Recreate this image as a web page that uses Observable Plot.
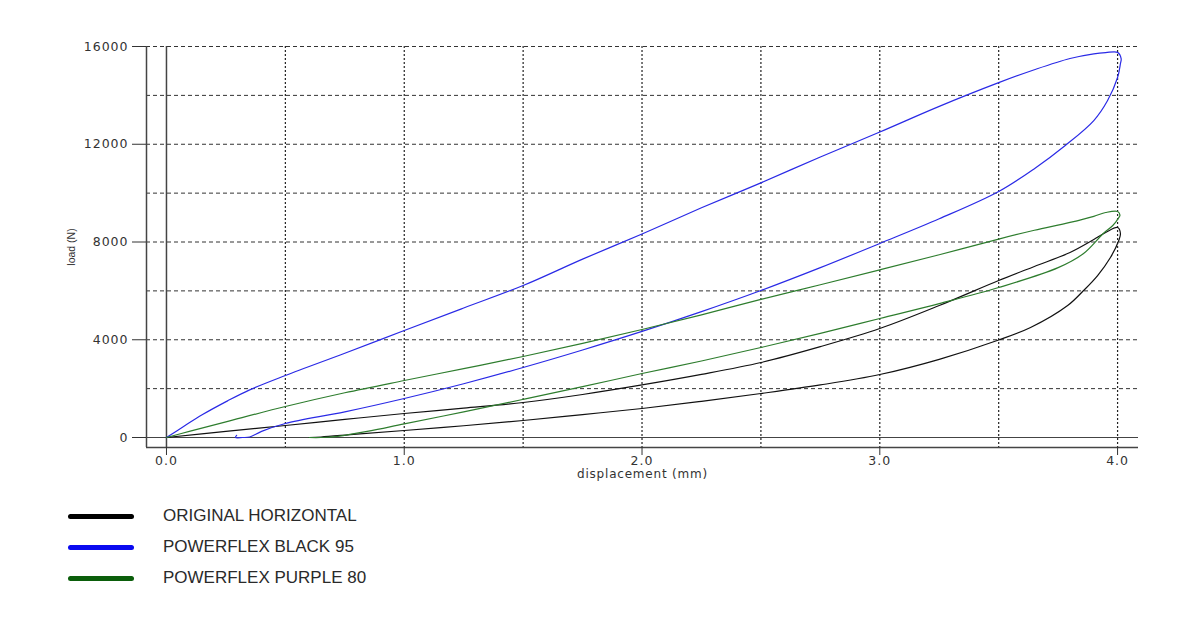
<!DOCTYPE html>
<html>
<head>
<meta charset="utf-8">
<script src="https://cdn.jsdelivr.net/npm/d3@7"></script>
<script src="https://cdn.jsdelivr.net/npm/@observablehq/plot@0.6"></script>
<style>
  body { margin: 0; background: #fff; }
  #wrap { position: relative; width: 1200px; height: 636px; background: #fff; }
  .legend { position: absolute; left: 0; top: 0; width: 1200px; height: 636px; pointer-events: none; }
  .item { position: absolute; left: 68px; height: 20px; }
  .sw { position: absolute; left: 0; width: 66px; height: 5px; border-radius: 3px; }
  .lab { position: absolute; left: 95px; white-space: nowrap; font-family: "Liberation Sans", Arial, sans-serif; font-size: 17px; color: #2a2a2a; line-height: 20px; }
</style>
</head>
<body>
<div id="wrap">
  <div id="chart"></div>
  <div class="legend" id="legend"></div>
</div>
<script>
// ---- data ----
const seriesNames = ["ORIGINAL HORIZONTAL", "POWERFLEX BLACK 95", "POWERFLEX PURPLE 80"];
const seriesColors = ["#111111", "#2a2ae6", "#2e7d2e"];
const legendColors = ["#000000", "#0a0af0", "#0b5e0b"];

const origX = [0, 0.25, 0.5, 0.75, 1.0, 1.25, 1.5, 1.75, 2.0, 2.25, 2.5, 2.75, 3.0, 3.25, 3.5, 3.65, 3.8, 3.9, 3.95, 4.0,
  4.012, 4.005, 3.97, 3.916, 3.857, 3.79, 3.634, 3.5, 3.25, 3.0, 2.75, 2.5, 2.25, 2.0, 1.75, 1.5, 1.25, 1.0, 0.8, 0.65, 0.6];
const origY = [0, 250, 491, 740, 982, 1200, 1432, 1760, 2150, 2580, 3069, 3720, 4460, 5400, 6424, 7000, 7570, 8100, 8388, 8593,
  8350, 8061, 7366, 6629, 6015, 5401, 4501, 3990, 3200, 2578, 2150, 1800, 1480, 1187, 940, 696, 480, 286, 140, 20, 0];

const blackX = [0, 0.072, 0.15, 0.257, 0.35, 0.5, 0.75, 1.0, 1.25, 1.5, 1.75, 2.0, 2.25, 2.5, 2.75, 3.0, 3.25, 3.5, 3.65, 3.8, 3.9, 3.95, 4.0,
  4.015, 4.012, 4.0, 3.958, 3.9, 3.78, 3.65, 3.5, 3.25, 3.0, 2.75, 2.5, 2.25, 2.0, 1.75, 1.5, 1.25, 1.0, 0.75, 0.5, 0.4, 0.35, 0.32, 0.29, 0.295];
const blackY = [0, 450, 930, 1500, 1950, 2537, 3450, 4378, 5300, 6220, 7300, 8330, 9400, 10420, 11480, 12500, 13550, 14520, 15050, 15510, 15700, 15750, 15760,
  15500, 15300, 14730, 13790, 12970, 11950, 11000, 10066, 8950, 7940, 6950, 6015, 5150, 4340, 3580, 2864, 2200, 1596, 1050, 573, 250, 20, 0, 0, 90];

const purpleX = [0, 0.1, 0.25, 0.5, 0.75, 1.0, 1.25, 1.5, 1.75, 2.0, 2.25, 2.5, 2.75, 3.0, 3.25, 3.5, 3.65, 3.8, 3.9, 3.95, 4.0,
  4.01, 4.005, 3.98, 3.94, 3.857, 3.75, 3.5, 3.25, 3.0, 2.75, 2.5, 2.25, 2.0, 1.75, 1.5, 1.25, 1.0, 0.85, 0.72, 0.65, 0.6];
const purpleY = [0, 260, 640, 1268, 1830, 2332, 2820, 3314, 3850, 4420, 5020, 5650, 6250, 6860, 7480, 8120, 8480, 8800, 9050, 9207, 9250,
  9100, 9000, 8675, 8348, 7530, 6950, 6138, 5480, 4870, 4260, 3683, 3130, 2619, 2080, 1560, 1050, 560, 260, 50, 0, 0];

const xTicks = [0, 1, 2, 3, 4];
const yTicks = [0, 4000, 8000, 12000, 16000];
const xGrid = [0.5, 1, 1.5, 2, 2.5, 3, 3.5, 4];
const yGrid = [2000, 4000, 6000, 8000, 10000, 12000, 14000, 16000];
const xDomain = [-0.084, 4.088];
const yDomain = [-409, 16000];
const xLabel = "displacement (mm)";
const yLabel = "load (N)";

// ---- build rows ----
function rows(xs, ys, name) { return xs.map((x, i) => ({x, y: ys[i], name})); }
const data = [
  ...rows(origX, origY, seriesNames[0]),
  ...rows(blackX, blackY, seriesNames[1]),
  ...rows(purpleX, purpleY, seriesNames[2])
];

const chart = Plot.plot({
  width: 1200,
  height: 490,
  marginLeft: 146,
  marginRight: 62,
  marginTop: 46,
  marginBottom: 43,
  style: { background: "white", color: "#333", fontFamily: "DejaVu Sans, sans-serif", fontSize: "12px", overflow: "visible" },
  x: { domain: xDomain, label: null },
  y: { domain: yDomain, label: null },
  color: { domain: seriesNames, range: seriesColors },
  marks: [
    Plot.ruleY(yGrid, { stroke: "#333", strokeWidth: 1, strokeDasharray: "4,3" }),
    Plot.ruleX(xGrid, { stroke: "#222", strokeWidth: 1.2, strokeDasharray: "2,2" }),
    Plot.ruleY([0], { stroke: "#444", strokeWidth: 1.2 }),
    Plot.ruleX([0], { stroke: "#444", strokeWidth: 1.5 }),
    Plot.ruleX([xDomain[0]], { stroke: "#444", strokeWidth: 1.5 }),
    Plot.ruleY([yDomain[0]], { stroke: "#444", strokeWidth: 1.5 }),
    Plot.line(data, { x: "x", y: "y", z: "name", stroke: "name", strokeWidth: 1.2, curve: "catmull-rom" }),
    Plot.axisY(yTicks, { anchor: "left", tickSize: 14, tickPadding: 4, tickFormat: d3.format("d"), fontSize: 12.5, label: null }),
    Plot.axisY([], { anchor: "left", label: yLabel, labelAnchor: "center", labelOffset: 79, fontSize: 10.5, fontFamily: "Liberation Sans, Arial, sans-serif", labelArrow: "none" }),
    Plot.axisX(xTicks, { anchor: "bottom", tickSize: 8, tickPadding: 1, tickFormat: d3.format(".1f"), fontSize: 12.5, label: null }),
    Plot.axisX([], { anchor: "bottom", label: xLabel, labelAnchor: "center", labelOffset: 30, fontSize: 12, labelArrow: "none" })
  ]
});
document.getElementById("chart").appendChild(chart);
chart.querySelectorAll("g[aria-label='y-axis tick label'] text, g[aria-label='x-axis tick label'] text").forEach(t => t.style.letterSpacing = "1px");
chart.querySelectorAll("g[aria-label='x-axis label'] text").forEach(t => t.style.letterSpacing = "0.8px");

// ---- legend ----
const legend = document.getElementById("legend");
const rowTops = [516, 547, 578];
seriesNames.forEach((name, i) => {
  const item = document.createElement("div");
  item.className = "item";
  item.style.top = (rowTops[i] - 10) + "px";
  const sw = document.createElement("div");
  sw.className = "sw";
  sw.style.top = "8px";
  sw.style.background = legendColors[i];
  const lab = document.createElement("div");
  lab.className = "lab";
  lab.style.top = "0px";
  lab.textContent = name;
  item.appendChild(sw);
  item.appendChild(lab);
  legend.appendChild(item);
});
</script>
</body>
</html>
